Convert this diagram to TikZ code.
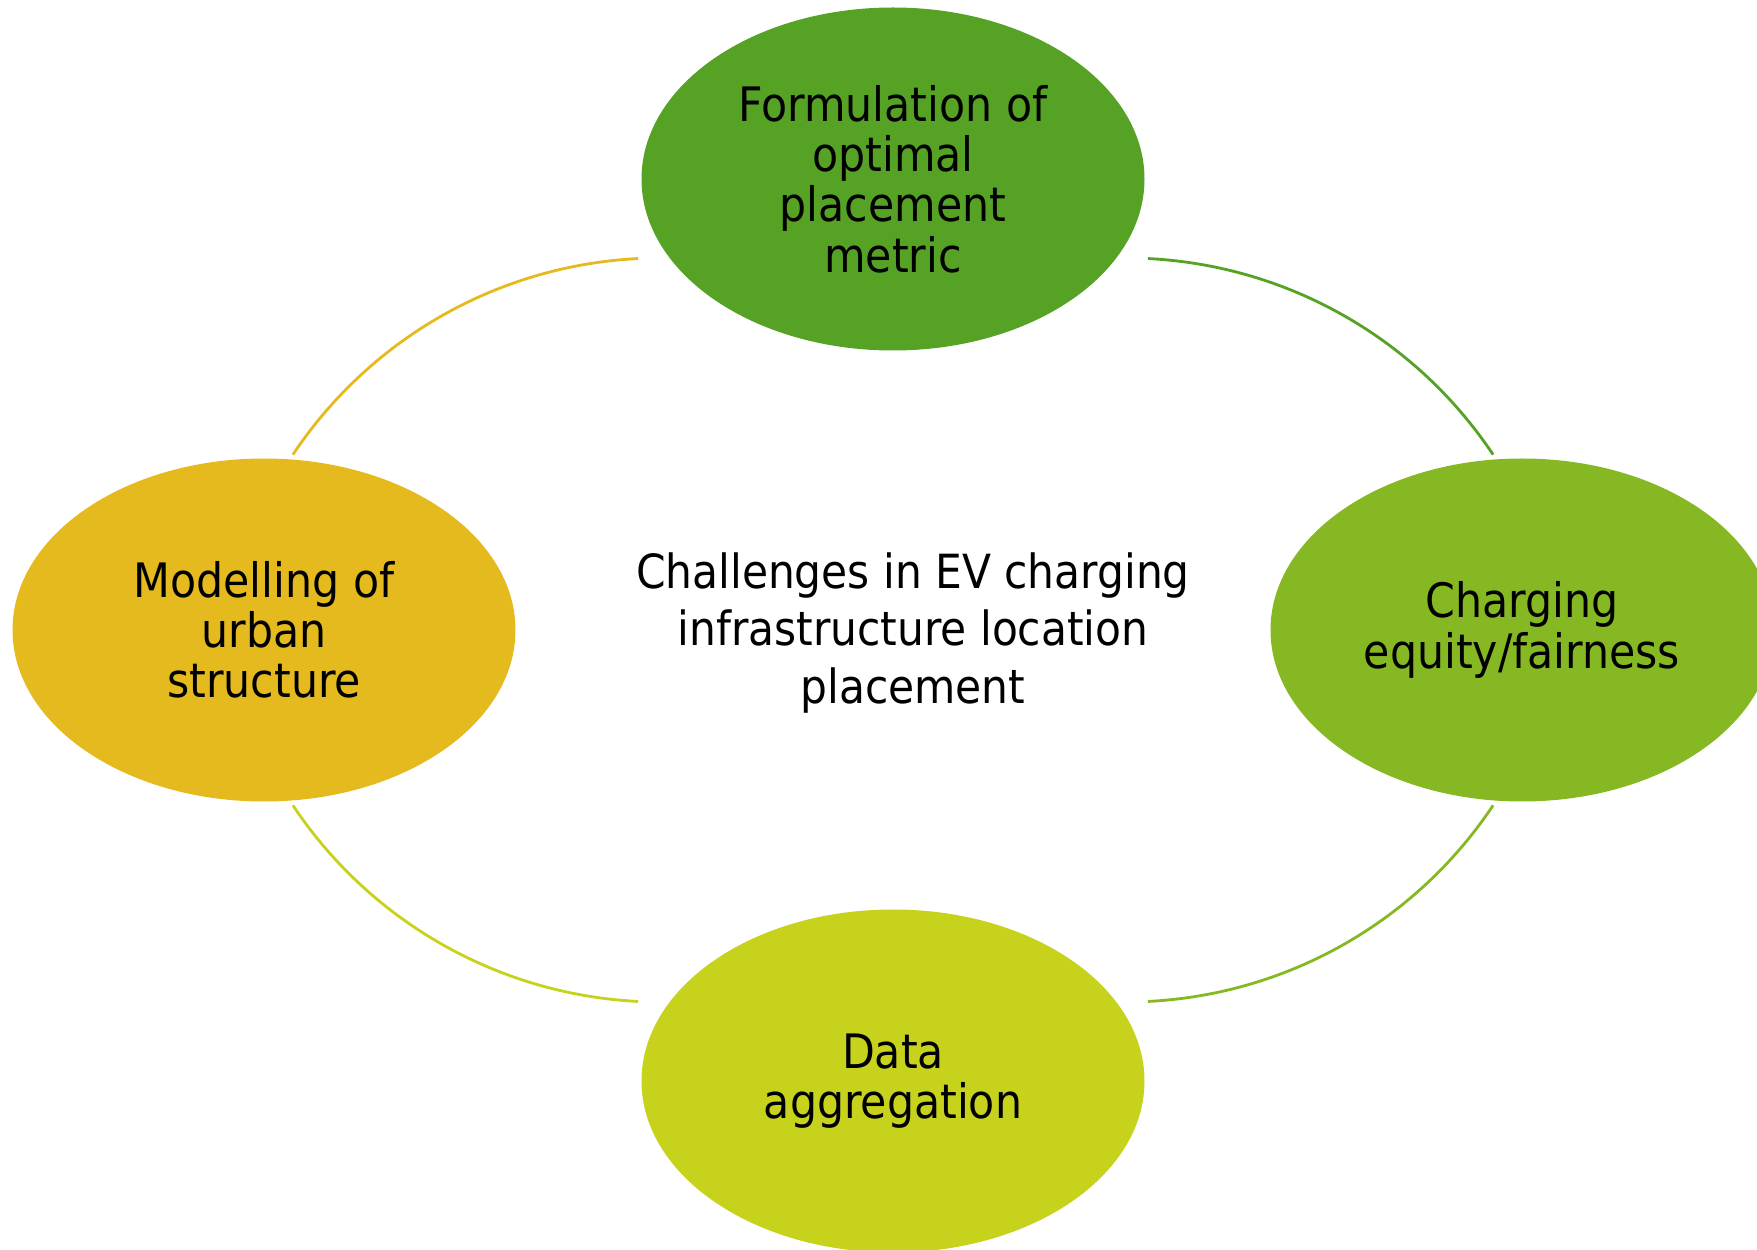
\documentclass[tikz,border=0pt]{standalone}
\usepackage{fontspec}
\setmainfont{DejaVu Sans Condensed}
\usepackage{tikz}
\usetikzlibrary{shapes.geometric}
\usetikzlibrary{positioning, calc}

\definecolor{topgreen}{RGB}{85,162,36}
\definecolor{midgreen}{RGB}{134,184,35}
\definecolor{limegreen}{RGB}{199,210,28}
\definecolor{gold}{RGB}{229,186,31}

\begin{document}
\begin{tikzpicture}[
    blob/.style={ellipse, fill=#1, minimum width=5.03cm, minimum height=3.43cm, inner sep=0pt, align=center, font=\fontsize{13.5}{14.3}\selectfont},
    ring/.style={draw=#1, line width=0.8pt},
    hub/.style={align=center, font=\fontsize{13.4}{16.3}\selectfont}
]
    \clip (0,0) rectangle (17.57,12.49);

    \draw (8.93,6.19) coordinate (mid);

    \draw (mid) ++(0, 4.51)  node[blob=topgreen]  (formulation) {Formulation of\\optimal\\placement\\metric};
    \draw (mid) ++(6.29, 0)  node[blob=midgreen]  (equity) {Charging\\equity/fairness};
    \draw (mid) ++(0, -4.51) node[blob=limegreen] (data) {Data\\aggregation};
    \draw (mid) ++(-6.29, 0) node[blob=gold]      (urban) {Modelling of\\urban\\structure};

    \draw (mid) ++(0.2, -0.03) node[hub] (challenges) {Challenges in EV charging\\infrastructure location\\placement};

    % Ring arcs between the blobs, each one a piece of its own circle:
    \foreach \dx/\dy/\a/\col in {2.33/-0.69/33.65/topgreen, -2.33/-0.69/92.85/gold, -2.33/0.69/213.65/limegreen, 2.33/0.69/272.85/midgreen} {
        \draw[ring=\col] (mid) ++(\dx, \dy) ++(\a:4.41) arc[start angle=\a, delta angle=53.5, radius=4.41];
    }

\end{tikzpicture}
\end{document}
